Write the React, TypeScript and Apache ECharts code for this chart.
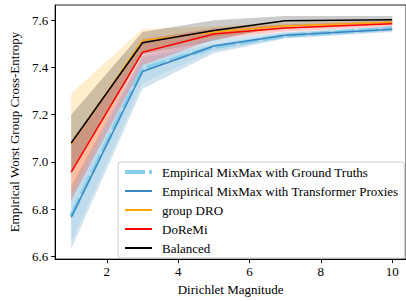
import React, { useEffect, useRef } from "react";
import * as echarts from "echarts";

const xs = [1, 3, 5, 7, 10];
const xTicks = [2, 4, 6, 8, 10];
const yTicks = [6.6, 6.8, 7.0, 7.2, 7.4, 7.6];

const gtMean = [6.77, 7.395, 7.487, 7.535, 7.565];
const gtLo = [6.66, 7.335, 7.47, 7.525, 7.555];
const gtHi = [6.88, 7.44, 7.5, 7.545, 7.575];

const tpMean = [6.765, 7.383, 7.491, 7.537, 7.562];
const tpLo = [6.63, 7.31, 7.46, 7.523, 7.55];
const tpHi = [6.9, 7.45, 7.52, 7.55, 7.574];

const droMean = [7.075, 7.515, 7.55, 7.576, 7.592];
const droLo = [6.86, 7.47, 7.53, 7.563, 7.584];
const droHi = [7.29, 7.563, 7.575, 7.59, 7.6];

const doremiMean = [6.956, 7.465, 7.542, 7.567, 7.585];
const doremiLo = [6.836, 7.41, 7.52, 7.553, 7.574];
const doremiHi = [7.076, 7.52, 7.565, 7.582, 7.596];

const balMean = [7.08, 7.505, 7.557, 7.598, 7.602];
const balLo = [6.96, 7.455, 7.515, 7.578, 7.588];
const balHi = [7.2, 7.55, 7.6, 7.618, 7.618];

const names = [
  "Empirical MixMax with Ground Truths",
  "Empirical MixMax with Transformer Proxies",
  "group DRO",
  "DoReMi",
  "Balanced",
];

const FONT = "'Liberation Serif', 'DejaVu Serif', serif";
const GT_DASH = [20, 4];

function band(lo: number[], hi: number[], color: string) {
  return {
    type: "custom",
    silent: true,
    z: 1,
    clip: true,
    data: [xs[0]],
    renderItem: (_params: any, api: any) => {
      const top = xs.map((x, i) => api.coord([x, hi[i]]));
      const bot = xs.map((x, i) => api.coord([x, lo[i]])).reverse();
      return {
        type: "polygon",
        shape: { points: top.concat(bot) },
        style: { fill: color, opacity: 0.2 },
      };
    },
  };
}

function line(name: string, vals: number[], color: string, width: number, type: any = "solid", opacity = 1) {
  return {
    type: "line",
    name,
    z: 2,
    symbol: "none",
    data: xs.map((x, i) => [x, vals[i]]),
    lineStyle: { color, width, type, opacity },
    itemStyle: { color },
  };
}

export default function App() {
  const ref = useRef<HTMLDivElement>(null);
  useEffect(() => {
    if (!ref.current) return;
    const chart = echarts.init(ref.current, undefined, { renderer: "svg" });
    chart.setOption({
      animation: false,
      grid: {
        left: 46,
        top: 5,
        right: -2,
        bottom: 36,
        show: true,
        borderColor: "#222",
        borderWidth: 1,
      },
      xAxis: {
        type: "value",
        min: 0.55,
        max: 10.387,
        name: "Dirichlet Magnitude",
        nameLocation: "middle",
        nameGap: 22,
        nameTextStyle: { fontFamily: FONT, fontSize: 13, color: "#000" },
        splitLine: { show: false },
        axisLine: { show: true, onZero: false, lineStyle: { color: "#000", width: 1 } },
        axisTick: { show: true, length: 4, customValues: xTicks, lineStyle: { color: "#000" } },
        axisLabel: { customValues: xTicks, fontFamily: FONT, fontSize: 13, color: "#000", margin: 6 },
      },
      yAxis: {
        type: "value",
        min: 6.5876,
        max: 7.665,
        name: "Empirical Worst Group Cross-Entropy",
        nameLocation: "middle",
        nameGap: 31,
        nameTextStyle: { fontFamily: FONT, fontSize: 13, color: "#000" },
        splitLine: { show: false },
        axisLine: { show: true, onZero: false, lineStyle: { color: "#000", width: 1 } },
        axisTick: { show: true, length: 4, customValues: yTicks, lineStyle: { color: "#000" } },
        axisLabel: {
          customValues: yTicks,
          fontFamily: FONT,
          fontSize: 13,
          color: "#000",
          margin: 7,
          formatter: (v: number) => v.toFixed(1),
        },
      },
      legend: {
        data: [
          { name: names[0], lineStyle: { width: 4, type: GT_DASH, color: "#87CEEB" } },
          names[1],
          names[2],
          names[3],
          names[4],
        ],
        orient: "vertical",
        left: 118,
        top: 162,
        padding: [3, 6, 3, 5],
        itemGap: 5,
        itemWidth: 27,
        itemHeight: 14,
        backgroundColor: "rgba(255,255,255,0.8)",
        borderColor: "#cccccc",
        borderWidth: 1,
        borderRadius: 3,
        selectedMode: false,
        itemStyle: { opacity: 0 },
        textStyle: {
          fontFamily: FONT,
          fontSize: 13,
          color: "#000",
          lineHeight: 14,
          padding: [0, 0, 0, 5],
        },
      },
      series: [
        band(gtLo, gtHi, "#87CEEB"),
        band(tpLo, tpHi, "#1f77b4"),
        band(droLo, droHi, "#FFA500"),
        band(doremiLo, doremiHi, "#FF0000"),
        band(balLo, balHi, "#000000"),
        line(names[0], gtMean, "#87CEEB", 4, GT_DASH),
        line(names[1], tpMean, "#3a84c0", 1.5),
        line(names[2], droMean, "#FFA500", 1.5),
        line(names[3], doremiMean, "#FF0000", 1.5),
        line(names[4], balMean, "#000000", 1.5),
      ],
    });
    return () => chart.dispose();
  }, []);
  return (
    <div
      ref={ref}
      style={{ position: "absolute", left: 0, top: 0, width: 406, height: 301 }}
    />
  );
}
